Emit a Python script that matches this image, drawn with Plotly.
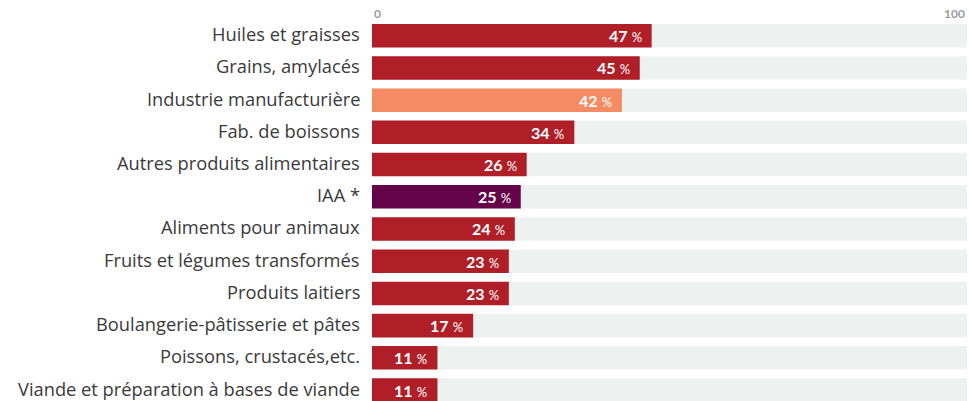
import plotly.graph_objects as go

categories = [
    "Huiles et graisses",
    "Grains, amylacés",
    "Industrie manufacturière",
    "Fab. de boissons",
    "Autres produits alimentaires",
    "IAA *",
    "Aliments pour animaux",
    "Fruits et légumes transformés",
    "Produits laitiers",
    "Boulangerie-pâtisserie et pâtes",
    "Poissons, crustacés,etc.",
    "Viande et préparation à bases de viande",
]
values = [47, 45, 42, 34, 26, 25, 24, 23, 23, 17, 11, 11]
bar_colors = ["#b01f28", "#b01f28", "#f48b63", "#b01f28", "#b01f28", "#64034a",
              "#b01f28", "#b01f28", "#b01f28", "#b01f28", "#b01f28", "#b01f28"]
axis_max = 100
tick_values = [0, 100]
tick_labels = ["0", "100"]

ypos = list(range(len(categories)))

fig = go.Figure()
fig.add_trace(go.Bar(
    x=[axis_max] * len(categories), y=ypos, orientation="h",
    marker=dict(color="#edf2f0", line=dict(width=0)),
    width=0.73, hoverinfo="skip", showlegend=False,
))
fig.add_trace(go.Bar(
    x=values, y=ypos, orientation="h",
    marker=dict(color=bar_colors, line=dict(width=0)),
    width=0.73, showlegend=False,
))

annotations = []
# category labels (left of the plot area)
for cat, y in zip(categories, ypos):
    annotations.append(dict(
        x=0, y=y, xref="paper", yref="y", xanchor="right", yanchor="middle",
        xshift=-10, yshift=2, showarrow=False, text=cat,
        font=dict(family="Open Sans, sans-serif", size=18.3, color="#3a3a3a"),
    ))
# value labels inside bar ends
for v, y in zip(values, ypos):
    annotations.append(dict(
        x=v, y=y, xref="x", yref="y", xanchor="right", yanchor="middle",
        xshift=-8, showarrow=False,
        text=f"<b>{v}</b> <span style='font-size:13px'>%</span>",
        font=dict(family="Lato, Open Sans, sans-serif", size=16, color="white"),
    ))
# top axis labels
for tv, tl in zip(tick_values, tick_labels):
    annotations.append(dict(
        x=tv, y=1, xref="x", yref="paper", yanchor="bottom",
        xanchor="left" if tv == tick_values[0] else "right",
        showarrow=False, text=f"<b>{tl}</b>", yshift=-3,
        font=dict(family="Lato, Open Sans, sans-serif", size=12, color="#9a9a9a"),
    ))

fig.update_layout(
    width=969, height=401,
    margin=dict(l=372, r=2, t=20, b=0),
    paper_bgcolor="white", plot_bgcolor="white",
    barmode="overlay",
    xaxis=dict(range=[0, axis_max], showgrid=False, zeroline=False,
               showticklabels=False, fixedrange=True),
    yaxis=dict(range=[11.34, -0.488], showgrid=False, zeroline=False,
               showticklabels=False, ticks="", fixedrange=True),
    annotations=annotations,
    font=dict(family="Open Sans, sans-serif"),
)

fig.write_html(
    "out.html",
    config={"displayModeBar": False},
    post_script="document.body.style.margin='0';document.body.style.overflow='hidden';",
)
